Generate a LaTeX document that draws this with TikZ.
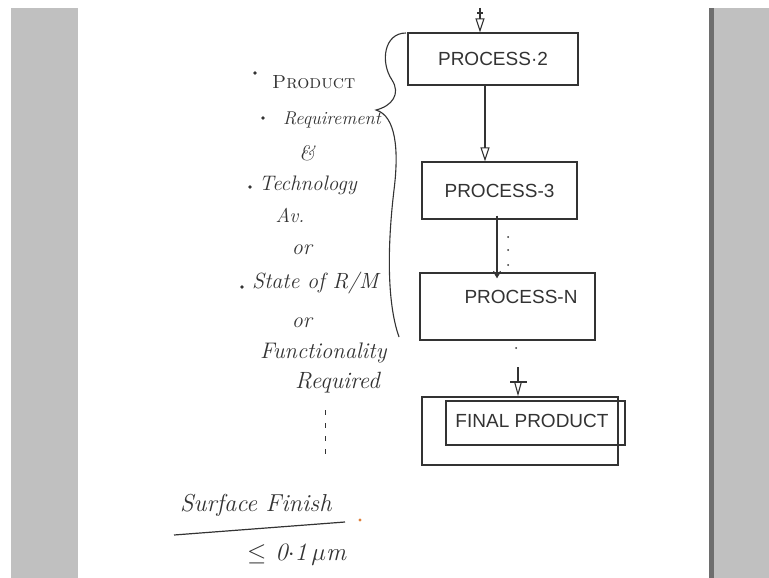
\documentclass[tikz,border=0pt]{standalone}
\usepackage{fontspec}
\newfontfamily\boxfont{Liberation Sans}
\usetikzlibrary{arrows.meta}
\definecolor{pen}{HTML}{333333}
\definecolor{bggray}{HTML}{C0C0C0}
\definecolor{edgegray}{HTML}{6E6E6E}
\definecolor{dotorange}{HTML}{E0803A}
\newcommand{\handsz}[1]{\fontsize{#1}{#1}\selectfont\itshape}
\begin{document}
\begin{tikzpicture}[x=1pt,y=-1pt,
  box/.style={draw=pen, line width=1.3pt, inner sep=0pt, text=pen,
    font=\boxfont\fontsize{19}{22}\selectfont},
  boxtext/.style={inner sep=0pt, text=pen, font=\boxfont\fontsize{19}{22}\selectfont},
  flow/.style={draw=pen, line width=1.2pt},
  hand/.style={font=\handsz{20}, text=pen, inner sep=0pt},
  bul/.style={fill=pen, circle, inner sep=0pt, minimum size=3.8pt},
  opentip/.style={-{Triangle[open, width=9pt, length=14pt, line width=1.1pt]}},
  smalltip/.style={-{Straight Barb[length=6pt, width=7pt, line width=1.1pt]}}
]
\useasboundingbox (0,0) rectangle (769,578);
\fill[white] (0,0) rectangle (769,578);
\fill[bggray] (11,8) rectangle (78,578);
\fill[bggray] (714,8) rectangle (769,578);
\fill[edgegray] (709,8) rectangle (714,578);

% flow boxes
\node[box, minimum width=170, minimum height=52] (p2) at (493,59) {PROCESS·2};
\node[box, minimum width=155, minimum height=57] (p3) at (499.5,190.5) {PROCESS-3};
\node[box, minimum width=175, minimum height=67] (pN) at (507.5,306.5) {};
\node[boxtext] (pNtext) at (521,297) {PROCESS-N};
\node[box, minimum width=196, minimum height=68] (fpo) at (520,431) {};
\node[box, minimum width=179, minimum height=44] (fp) at (535.5,423) {};
\node[boxtext] (fptext) at (532,421) {FINAL PRODUCT};

% connectors
\coordinate (top) at (480,8);
\draw[flow, opentip] (top) -- (p2.north -| top);
\draw[flow] (477,13) -- (483,13);
\coordinate (a2) at (485,0);
\draw[flow, opentip] (p2.south -| a2) -- (p3.north -| a2);
\coordinate (a3) at (497,0);
\draw[flow, smalltip] ([yshift=4pt]p3.south -| a3) -- ([yshift=-6pt]pN.north -| a3);
\foreach \yy in {237,250,265} \fill[pen] (508,\yy) circle (1pt);
\fill[pen] (516,348) circle (1pt);
\coordinate (a4) at (518,367);
\draw[flow, -{Triangle[open, width=8pt, length=15pt, line width=1.1pt]}] (a4) -- (fpo.north -| a4);
\draw[flow] (510,382) -- (527,382);

% brace
\draw[pen, line width=1.1pt] (406,33) .. controls (384,33) and (380,62) .. (392,80)
  .. controls (401,94) and (392,106) .. (376,110)
  .. controls (396,116) and (399,150) .. (394,190)
  .. controls (388,240) and (386,300) .. (399,337);

% left column
\node[bul] (b1) at (255,73) {};
\node[hand, anchor=west, font=\fontsize{19}{22}\selectfont\scshape] (t1) at (272,82) {Product};
\node[bul] (b2) at (263,118) {};
\node[hand, anchor=west, font=\handsz{18.5}] (t2) at (283,120) {Requirement};
\node[hand, font=\handsz{21}] (t3) at (307,153) {\&};
\node[bul] (b3) at (250,187) {};
\node[hand, anchor=west, font=\handsz{21}] (t4) at (259,185) {Technology};
\node[hand, font=\handsz{20}] (t5) at (290,215) {Av.};
\node[hand, font=\handsz{22}] (t6) at (302,250) {or};
\node[bul] (b4) at (242,287) {};
\node[hand, anchor=west, font=\handsz{22}] (t7) at (252,283) {State of R/M};
\node[hand, font=\handsz{22}] (t8) at (302,323) {or};
\node[hand, anchor=west, font=\handsz{22.5}] (t9) at (260,353) {Functionality};
\node[hand, anchor=west, font=\handsz{23.5}] (t10) at (295,383) {Required};
\coordinate (d1) at (325,410);
\coordinate (d2) at (325,458);
\draw[pen, line width=1pt, dash pattern=on 5pt off 8pt] (d1) -- (d2);

\node[hand, anchor=west, font=\handsz{24.5}] (sf) at (180,505) {Surface Finish};
\coordinate (l1) at (174,535);
\coordinate (l2) at (345,522);
\draw[pen, line width=1.2pt] (l1) -- (l2);
\fill[dotorange] (360,520) circle (1.6pt);
\node[hand, anchor=west, font=\handsz{25}] (val) at (247,555) {$\leq$ 0$\cdot$1\,$\mu$m};
\end{tikzpicture}
\end{document}
